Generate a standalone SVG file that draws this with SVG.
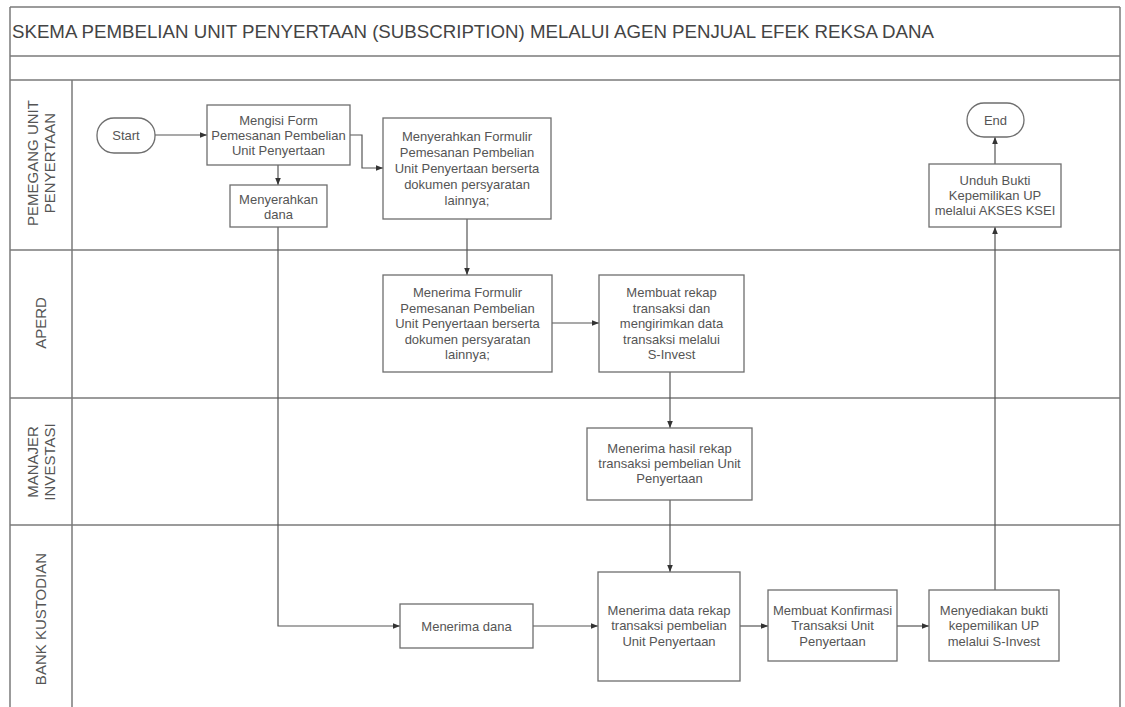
<svg xmlns="http://www.w3.org/2000/svg" width="1125" height="707" viewBox="0 0 1125 707">
<style>
  .frame{fill:none;stroke:#7a7a7a;stroke-width:1.5}
  .box{fill:#ffffff;stroke:#6e6e6e;stroke-width:1.3}
  .t{font-family:"Liberation Sans",Arial,sans-serif;font-size:13px;fill:#555;text-anchor:middle}
  .lane{font-family:"Liberation Sans",Arial,sans-serif;font-size:15px;fill:#555;text-anchor:middle}
  .title{font-family:"Liberation Sans",Arial,sans-serif;font-size:18px;fill:#444}
  .c{fill:none;stroke:#555;stroke-width:1.2;marker-end:url(#ah)}
</style>
<defs>
  <marker id="ah" viewBox="0 0 10 10" refX="10" refY="5" markerWidth="7" markerHeight="7" markerUnits="userSpaceOnUse" orient="auto">
    <path d="M0,1 L10,5 L0,9 Z" fill="#333"/>
  </marker>
</defs>
<rect width="1125" height="707" fill="#ffffff"/>
<g id="frame">
  <line class="frame" x1="10" y1="7" x2="1120" y2="7"/>
  <line class="frame" x1="10" y1="7" x2="10" y2="707"/>
  <line class="frame" x1="1120" y1="7" x2="1120" y2="707"/>
  <line class="frame" x1="10" y1="56" x2="1120" y2="56"/>
  <line class="frame" x1="10" y1="80" x2="1120" y2="80"/>
  <line class="frame" x1="72" y1="80" x2="72" y2="707"/>
  <line class="frame" x1="10" y1="250" x2="1120" y2="250"/>
  <line class="frame" x1="10" y1="398" x2="1120" y2="398"/>
  <line class="frame" x1="10" y1="525" x2="1120" y2="525"/>
  <text class="title" x="12" y="38" textLength="922" lengthAdjust="spacingAndGlyphs">SKEMA PEMBELIAN UNIT PENYERTAAN (SUBSCRIPTION) MELALUI AGEN PENJUAL EFEK REKSA DANA</text>
</g>
<g id="lane-labels">
  <text class="lane" transform="translate(41,163) rotate(-90)"><tspan x="0" y="-3">PEMEGANG UNIT</tspan><tspan x="0" y="14">PENYERTAAN</tspan></text>
  <text class="lane" transform="translate(46,323) rotate(-90)">APERD</text>
  <text class="lane" transform="translate(41,462) rotate(-90)"><tspan x="0" y="-3">MANAJER</tspan><tspan x="0" y="14">INVESTASI</tspan></text>
  <text class="lane" transform="translate(46,619) rotate(-90)">BANK KUSTODIAN</text>
</g>
<g id="connectors">
  <path class="c" d="M155,135 H207"/>
  <path class="c" d="M278,165 V185"/>
  <path class="c" d="M350,135 H362 V168 H383"/>
  <path class="c" d="M467,219 V275"/>
  <path class="c" d="M278,227 V626 H400"/>
  <path class="c" d="M552,323 H599"/>
  <path class="c" d="M670,372 V428"/>
  <path class="c" d="M670,500 V572"/>
  <path class="c" d="M533,626 H598"/>
  <path class="c" d="M740,626 H768"/>
  <path class="c" d="M897,626 H929"/>
  <path class="c" d="M995,590 V227"/>
  <path class="c" d="M995,164 V137"/>
</g>
<g id="start">
  <rect class="box" x="97" y="118" width="58" height="35" rx="17" ry="17"/>
  <text class="t" x="126" y="140">Start</text>
</g>
<g id="mengisi-form">
  <rect class="box" x="207" y="105" width="143" height="60"/>
  <text class="t"><tspan x="278.5" y="125">Mengisi Form</tspan><tspan x="278.5" y="140">Pemesanan Pembelian</tspan><tspan x="278.5" y="155">Unit Penyertaan</tspan></text>
</g>
<g id="menyerahkan-dana">
  <rect class="box" x="230" y="185" width="97" height="42"/>
  <text class="t"><tspan x="278.5" y="204">Menyerahkan</tspan><tspan x="278.5" y="219">dana</tspan></text>
</g>
<g id="menyerahkan-formulir">
  <rect class="box" x="383" y="118" width="168" height="101"/>
  <text class="t"><tspan x="467" y="141">Menyerahkan Formulir</tspan><tspan x="467" y="157">Pemesanan Pembelian</tspan><tspan x="467" y="173">Unit Penyertaan berserta</tspan><tspan x="467" y="189">dokumen persyaratan</tspan><tspan x="467" y="205">lainnya;</tspan></text>
</g>
<g id="end">
  <rect class="box" x="967" y="103" width="57" height="34" rx="17" ry="17"/>
  <text class="t" x="995.5" y="125">End</text>
</g>
<g id="unduh-bukti">
  <rect class="box" x="929" y="164" width="132" height="63"/>
  <text class="t"><tspan x="995" y="185">Unduh Bukti</tspan><tspan x="995" y="200">Kepemilikan UP</tspan><tspan x="995" y="215">melalui AKSES KSEI</tspan></text>
</g>
<g id="menerima-formulir">
  <rect class="box" x="383" y="275" width="169" height="97"/>
  <text class="t"><tspan x="467.5" y="297">Menerima Formulir</tspan><tspan x="467.5" y="313">Pemesanan Pembelian</tspan><tspan x="467.5" y="328">Unit Penyertaan berserta</tspan><tspan x="467.5" y="344">dokumen persyaratan</tspan><tspan x="467.5" y="359">lainnya;</tspan></text>
</g>
<g id="membuat-rekap">
  <rect class="box" x="599" y="275" width="145" height="97"/>
  <text class="t"><tspan x="671.5" y="297">Membuat rekap</tspan><tspan x="671.5" y="313">transaksi dan</tspan><tspan x="671.5" y="328">mengirimkan data</tspan><tspan x="671.5" y="344">transaksi melalui</tspan><tspan x="671.5" y="359">S-Invest</tspan></text>
</g>
<g id="menerima-hasil-rekap">
  <rect class="box" x="587" y="428" width="165" height="72"/>
  <text class="t"><tspan x="669.5" y="453">Menerima hasil rekap</tspan><tspan x="669.5" y="468">transaksi pembelian Unit</tspan><tspan x="669.5" y="483">Penyertaan</tspan></text>
</g>
<g id="menerima-dana">
  <rect class="box" x="400" y="604" width="133" height="44"/>
  <text class="t" x="466.5" y="631">Menerima dana</text>
</g>
<g id="menerima-data-rekap">
  <rect class="box" x="598" y="572" width="142" height="109"/>
  <text class="t"><tspan x="669" y="615">Menerima data rekap</tspan><tspan x="669" y="630">transaksi pembelian</tspan><tspan x="669" y="646">Unit Penyertaan</tspan></text>
</g>
<g id="membuat-konfirmasi">
  <rect class="box" x="768" y="590" width="129" height="71"/>
  <text class="t"><tspan x="832.5" y="615">Membuat Konfirmasi</tspan><tspan x="832.5" y="630">Transaksi Unit</tspan><tspan x="832.5" y="646">Penyertaan</tspan></text>
</g>
<g id="menyediakan-bukti">
  <rect class="box" x="929" y="590" width="130" height="71"/>
  <text class="t"><tspan x="994" y="615">Menyediakan bukti</tspan><tspan x="994" y="630">kepemilikan UP</tspan><tspan x="994" y="646">melalui S-Invest</tspan></text>
</g>
</svg>
